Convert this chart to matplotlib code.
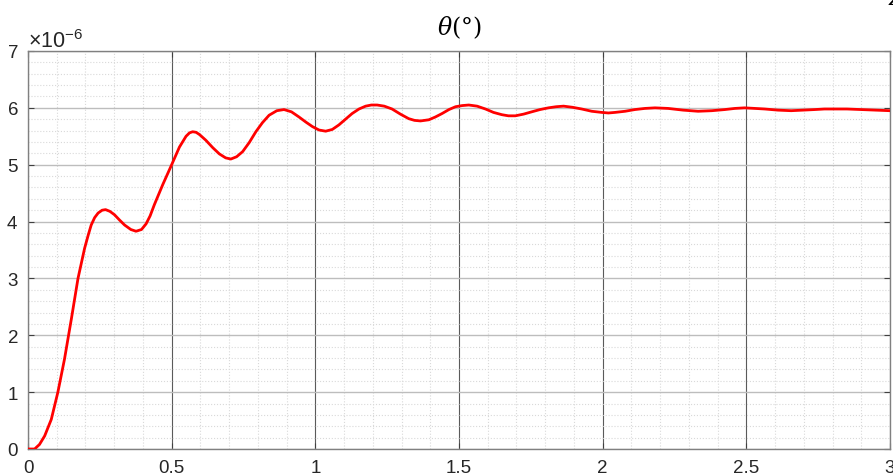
import numpy as np
import matplotlib
matplotlib.use('Agg')
import matplotlib.pyplot as plt
from matplotlib.ticker import MultipleLocator, ScalarFormatter

plt.rcParams['font.family'] = ['Liberation Sans', 'DejaVu Sans']
plt.rcParams['mathtext.fontset'] = 'custom'
plt.rcParams['mathtext.rm'] = 'Liberation Sans'
plt.rcParams['mathtext.it'] = 'Liberation Sans:italic'

# time (s) and angle (x1e-6 deg)
t = [0, 0.023, 0.04, 0.058, 0.081, 0.104, 0.127, 0.151, 0.174, 0.197,
     0.21, 0.22, 0.232, 0.244, 0.258, 0.27, 0.285, 0.301, 0.318, 0.336,
     0.358, 0.376, 0.395, 0.411, 0.425, 0.44, 0.469, 0.5, 0.527, 0.55,
     0.562, 0.573, 0.585, 0.597, 0.619, 0.643, 0.666, 0.688, 0.706, 0.726,
     0.747, 0.77, 0.793, 0.816, 0.839, 0.866, 0.891, 0.917, 0.943, 0.967,
     0.99, 1.013, 1.036, 1.059, 1.082, 1.105, 1.128, 1.152, 1.175, 1.195,
     1.215, 1.24, 1.267, 1.296, 1.325, 1.345, 1.366, 1.395, 1.418, 1.441,
     1.465, 1.488, 1.511, 1.534, 1.563, 1.592, 1.62, 1.649, 1.672, 1.696,
     1.725, 1.753, 1.782, 1.811, 1.838, 1.864, 1.895, 1.927, 1.962, 1.997,
     2.02, 2.043, 2.078, 2.112, 2.147, 2.182, 2.228, 2.28, 2.332, 2.38,
     2.425, 2.46, 2.494, 2.53, 2.564, 2.61, 2.656, 2.697, 2.738, 2.772,
     2.807, 2.85, 2.9, 2.95, 3.0]
theta = [0, 0.0, 0.08, 0.23, 0.52, 1.0, 1.58, 2.29, 3.0, 3.53,
         3.77, 3.94, 4.07, 4.15, 4.2, 4.21, 4.18, 4.12, 4.03, 3.94,
         3.86, 3.83, 3.86, 3.96, 4.1, 4.3, 4.65, 5.0, 5.31, 5.5,
         5.56, 5.58, 5.57, 5.53, 5.43, 5.3, 5.19, 5.12, 5.1, 5.14,
         5.23, 5.39, 5.58, 5.74, 5.87, 5.95, 5.97, 5.93, 5.84, 5.75,
         5.67, 5.61, 5.59, 5.62, 5.7, 5.8, 5.9, 5.98, 6.03, 6.05,
         6.05, 6.03, 5.98, 5.89, 5.81, 5.78, 5.77, 5.79, 5.84, 5.9,
         5.97, 6.02, 6.04, 6.05, 6.03, 5.98, 5.92, 5.88, 5.86, 5.86,
         5.89, 5.93, 5.97, 6.0, 6.02, 6.03, 6.01, 5.98, 5.94, 5.92,
         5.91, 5.92, 5.94, 5.97, 5.99, 6.0, 5.99, 5.96, 5.94, 5.95,
         5.97, 5.99, 6.0, 5.99, 5.98, 5.96, 5.95, 5.96, 5.97, 5.98,
         5.98, 5.98, 5.97, 5.96, 5.95]

fig = plt.figure(figsize=(8.93, 4.77), dpi=100)
ax = fig.add_axes([28/893, 27/477, 862/893, 398/477])

ax.plot(np.array(t), np.array(theta) * 1e-6, color='#ff0000', lw=2.0, zorder=3,
        solid_joinstyle='round')

ax.set_xlim(0, 3)
ax.set_ylim(0, 7e-6)
ax.xaxis.set_major_locator(MultipleLocator(0.5))
ax.xaxis.set_minor_locator(MultipleLocator(0.1))
ax.yaxis.set_major_locator(MultipleLocator(1e-6))
ax.yaxis.set_minor_locator(MultipleLocator(0.2e-6))
ax.xaxis.set_major_formatter(matplotlib.ticker.FuncFormatter(lambda v, p: f'{v:g}'))
fmt = ScalarFormatter(useMathText=True)
ax.yaxis.set_major_formatter(fmt)
ax.yaxis.get_offset_text().set_fontsize(15.5)
ax.yaxis.get_offset_text().set_color('#262626')

ax.grid(which='minor', axis='both', color='#d9d9d9', ls=':', lw=0.8)
ax.grid(which='major', axis='y', color='#bdbdbd', ls='-', lw=1.0)
ax.grid(which='major', axis='x', color='#5a5a5a', ls='-', lw=0.8)
ax.set_axisbelow(True)

ax.tick_params(which='both', direction='in', top=True, right=True,
               colors='#404040', labelcolor='#262626', labelsize=13.5)
ax.tick_params(which='major', length=4, pad=7)
ax.tick_params(which='minor', length=0)
for s in ax.spines.values():
    s.set_color('#808080')
    s.set_linewidth(1.0)

ax.set_title(r'$\theta(\degree)$', fontsize=17, math_fontfamily='dejavuserif',
             color='#000000', pad=12)
fig.text(888/893, 1.0, 'Z', fontsize=14, fontstyle='italic', family='DejaVu Serif',
         ha='left', va='center')

fig.savefig('out.png', dpi=100)
